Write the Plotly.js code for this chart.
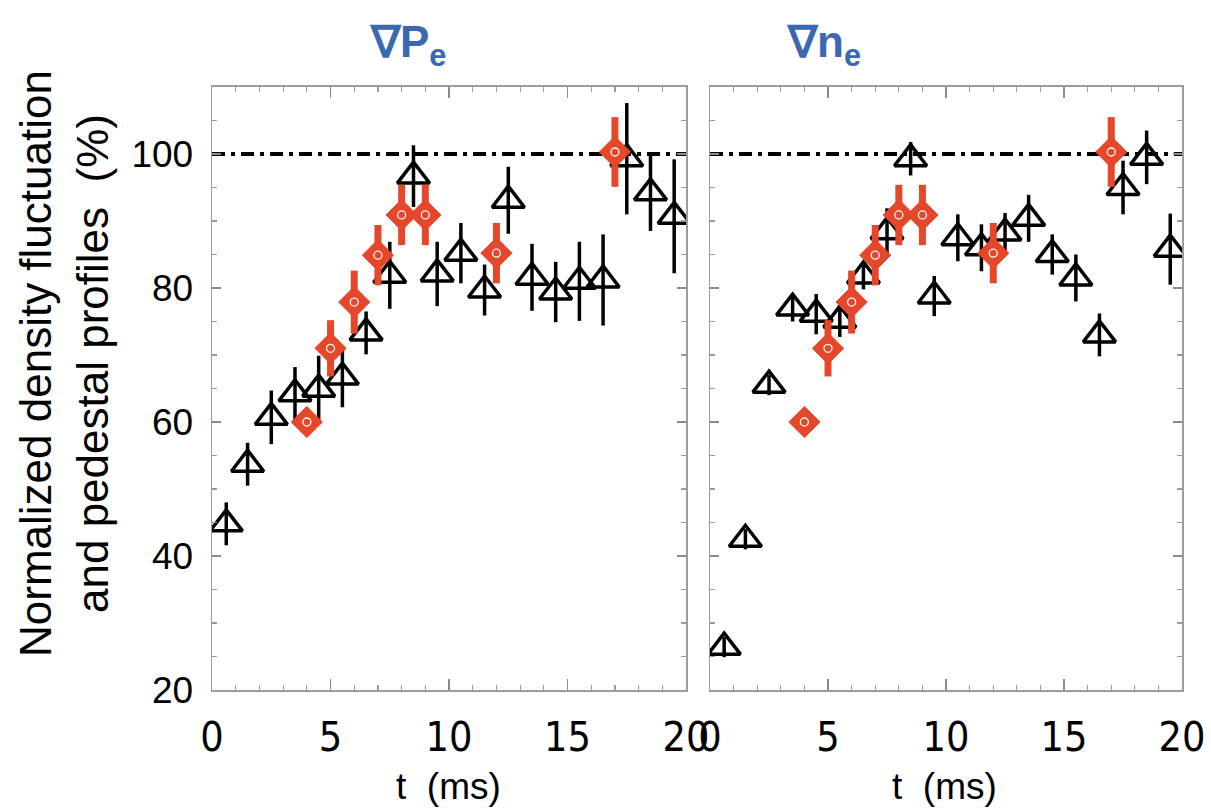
<!DOCTYPE html>
<html>
<head>
<meta charset="utf-8">
<script src="https://cdn.plot.ly/plotly-3.0.1.min.js"></script>
<style>html,body{margin:0;padding:0;background:#fff;}#chart{width:1211px;height:810px;}</style>
</head>
<body>
<div id="chart"></div>
<script>
// ---- data ----
var tTri = [0.6, 1.5, 2.5, 3.5, 4.5, 5.5, 6.5, 7.5, 8.5, 9.5, 10.5, 11.5, 12.5, 13.5, 14.5, 15.5, 16.5, 17.5, 18.5, 19.5];
var gradPe = [44.8, 53.7, 60.7, 64.2, 64.9, 66.7, 73.3, 81.9, 96.7, 82.1, 85.2, 79.7, 93.1, 81.6, 79.4, 81.0, 81.2, 99.3, 94.2, 90.7];
var gradPeErr = [3.2, 3.2, 4.0, 4.0, 5.0, 4.5, 3.2, 5.0, 4.6, 4.8, 4.5, 3.8, 5.0, 5.0, 4.5, 5.9, 6.8, 8.3, 5.7, 8.5];
var gradNe = [26.4, 42.5, 65.5, 77.0, 76.1, 75.2, 81.8, 88.4, 99.3, 78.8, 87.5, 86.0, 88.2, 90.4, 85.0, 81.5, 73.0, 95.0, 99.5, 85.8];
var gradNeErr = [1.5, 1.5, 1.5, 2.0, 3.0, 2.5, 2.0, 3.5, 2.5, 3.0, 3.5, 3.5, 3.0, 3.5, 3.0, 3.5, 3.2, 4.0, 4.0, 5.3];
var tFluct = [4, 5, 6, 7, 8, 9, 12, 17];
var fluct = [60.0, 71.0, 77.9, 84.9, 90.9, 90.9, 85.2, 100.3];
var fluctErr = [0, 4.2, 4.7, 4.5, 4.5, 4.5, 4.5, 5.2];
var refLevel = [100];
var xTickVals = [0, 5, 10, 15, 20];
var yTickVals = [20, 40, 60, 80, 100];

var RED = '#e6472b', BLUE = '#3c68b1';
var FONT = 'Liberation Sans, Arial, Helvetica, sans-serif';
var NARROW = 'Liberation Sans Narrow, Arial Narrow, DejaVu Sans Condensed, sans-serif';

function triTrace(y, err, xa, ya) {
  return {
    x: tTri, y: y, xaxis: xa, yaxis: ya, type: 'scatter', mode: 'markers',
    marker: {symbol: 'triangle-up-open', size: 28, color: '#000', line: {color: '#000', width: 3.5}},
    error_y: {type: 'data', array: err, visible: true, color: '#000', thickness: 3.5, width: 0},
    hoverinfo: 'skip', showlegend: false
  };
}
function redTrace(xa, ya) {
  return {
    x: tFluct, y: fluct, xaxis: xa, yaxis: ya, type: 'scatter', mode: 'markers',
    marker: {symbol: 'diamond', size: 24, color: RED, line: {color: RED, width: 1}},
    error_y: {type: 'data', array: fluctErr, visible: true, color: RED, thickness: 7, width: 0},
    hoverinfo: 'skip', showlegend: false
  };
}
function dotTrace(xa, ya) {
  return {
    x: tFluct, y: fluct, xaxis: xa, yaxis: ya, type: 'scatter', mode: 'markers',
    marker: {symbol: 'circle-open', size: 8, color: '#fff', line: {color: '#fff', width: 1.3}},
    hoverinfo: 'skip', showlegend: false
  };
}

var data = [
  triTrace(gradPe, gradPeErr, 'x', 'y'), redTrace('x', 'y'), dotTrace('x', 'y'),
  triTrace(gradNe, gradNeErr, 'x2', 'y2'), redTrace('x2', 'y2'), dotTrace('x2', 'y2')
];

function xAx(domain, anchor) {
  return {
    domain: domain, anchor: anchor, range: [0, 20], tickvals: xTickVals,
    showline: true, mirror: 'ticks', linecolor: '#9c9c9c', linewidth: 1.5,
    ticks: 'inside', ticklen: 11, tickwidth: 1.5, tickcolor: '#8a8a8a',
    minor: {dtick: 1, ticks: 'inside', ticklen: 5, tickwidth: 1.2, tickcolor: '#9a9a9a'},
    showgrid: false, zeroline: false,
    tickfont: {family: NARROW, size: 41, color: '#000'}, ticklabelstandoff: 10
  };
}
function yAx(domain, anchor, labels) {
  return {
    domain: domain, anchor: anchor, range: [20, 110], tickvals: yTickVals,
    showticklabels: labels,
    showline: true, mirror: 'ticks', linecolor: '#9c9c9c', linewidth: 1.5,
    ticks: 'inside', ticklen: 9, tickwidth: 1.5, tickcolor: '#8a8a8a',
    minor: {dtick: 5, ticks: 'inside', ticklen: 5, tickwidth: 1.2, tickcolor: '#9a9a9a'},
    showgrid: false, zeroline: false,
    tickfont: {family: FONT, size: 37, color: '#000'}, ticklabelstandoff: 10
  };
}

var yDom = [0.1481, 0.8926];
var DASH = '13px,6px,4px,6px';
var layout = {
  width: 1211, height: 810,
  margin: {l: 0, r: 0, t: 0, b: 0},
  paper_bgcolor: '#fff', plot_bgcolor: '#fff',
  showlegend: false,
  xaxis: xAx([0.1751, 0.5665], 'y'),
  yaxis: yAx(yDom, 'x', true),
  xaxis2: xAx([0.5863, 0.9761], 'y2'),
  yaxis2: yAx(yDom, 'x2', false),
  shapes: [
    {type: 'line', xref: 'x', yref: 'y', x0: 0, x1: 20, y0: refLevel[0], y1: refLevel[0], layer: 'below',
     line: {color: '#000', width: 4, dash: DASH}},
    {type: 'line', xref: 'x2', yref: 'y2', x0: 0, x1: 20, y0: refLevel[0], y1: refLevel[0], layer: 'below',
     line: {color: '#000', width: 4, dash: DASH}}
  ],
  annotations: [
    {text: '∇P<sub>e</sub>', xref: 'paper', yref: 'paper', x: 408 / 1211, y: 1 - 45 / 810,
     xanchor: 'center', yanchor: 'middle', showarrow: false,
     font: {family: FONT, size: 44, color: BLUE, weight: 'bold'}},
    {text: '∇n<sub>e</sub>', xref: 'paper', yref: 'paper', x: 824 / 1211, y: 1 - 45 / 810,
     xanchor: 'center', yanchor: 'middle', showarrow: false,
     font: {family: FONT, size: 44, color: BLUE, weight: 'bold'}},
    {text: 'Normalized density fluctuation<br>and pedestal profiles  (%)', xref: 'paper', yref: 'paper',
     x: 64 / 1211, y: 1 - 364 / 810, xanchor: 'center', yanchor: 'middle', textangle: -90, showarrow: false,
     font: {family: FONT, size: 44, color: '#000'}},
    {text: 't  (ms)', xref: 'paper', yref: 'paper', x: 448 / 1211, y: 1 - 786 / 810,
     xanchor: 'center', yanchor: 'middle', showarrow: false,
     font: {family: FONT, size: 37, color: '#000'}},
    {text: 't  (ms)', xref: 'paper', yref: 'paper', x: 944 / 1211, y: 1 - 786 / 810,
     xanchor: 'center', yanchor: 'middle', showarrow: false,
     font: {family: FONT, size: 37, color: '#000'}}
  ]
};

Plotly.newPlot('chart', data, layout, {staticPlot: true, displayModeBar: false});
</script>
</body>
</html>
